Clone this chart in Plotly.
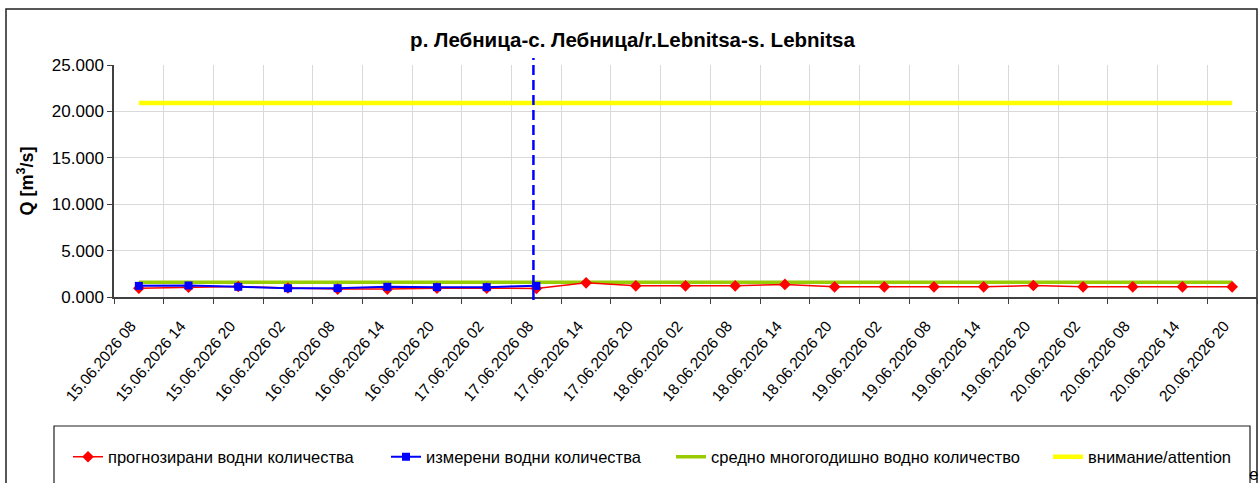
import plotly.graph_objects as go

categories = [
    "15.06.2026 08", "15.06.2026 14", "15.06.2026 20",
    "16.06.2026 02", "16.06.2026 08", "16.06.2026 14", "16.06.2026 20",
    "17.06.2026 02", "17.06.2026 08", "17.06.2026 14", "17.06.2026 20",
    "18.06.2026 02", "18.06.2026 08", "18.06.2026 14", "18.06.2026 20",
    "19.06.2026 02", "19.06.2026 08", "19.06.2026 14", "19.06.2026 20",
    "20.06.2026 02", "20.06.2026 08", "20.06.2026 14", "20.06.2026 20",
]
forecast = [0.95, 1.05, 1.13, 0.97, 0.85, 0.85, 0.95, 0.95, 0.92, 1.53, 1.2, 1.2,
            1.2, 1.35, 1.1, 1.1, 1.1, 1.1, 1.24, 1.1, 1.1, 1.1, 1.1]
measured_categories = categories[:9]
measured = [1.2, 1.24, 1.1, 0.95, 0.95, 1.1, 1.06, 1.06, 1.2]
mean_value = [1.6] * len(categories)
attention = [20.9] * len(categories)
now_category = "17.06.2026 08"

FONT = "Liberation Sans, Arial, sans-serif"
W, H = 1260, 483
L, R, T, B = 114, 1257, 65, 297
pw, ph = R - L, B - T


def px(x):
    return (x - L) / pw


def py(y):
    return (B - y) / ph


fig = go.Figure()
fig.add_trace(go.Scatter(x=categories, y=mean_value, mode="lines",
                         line=dict(color="#99CC00", width=3.5),
                         name="средно многогодишно водно количество", legend="legend3"))
fig.add_trace(go.Scatter(x=categories, y=attention, mode="lines",
                         line=dict(color="#FFFF00", width=4.5),
                         name="внимание/attention", legend="legend4"))
fig.add_trace(go.Scatter(x=categories, y=forecast, mode="lines+markers",
                         line=dict(color="#FF0000", width=1.5),
                         marker=dict(symbol="diamond", size=9, color="#FF0000"),
                         name="прогнозирани водни количества", legend="legend"))
fig.add_trace(go.Scatter(x=measured_categories, y=measured, mode="lines+markers",
                         line=dict(color="#0000FF", width=2),
                         marker=dict(symbol="square", size=8, color="#0000FF"),
                         name="измерени водни количества", legend="legend2"))

# vertical "now" line
fig.add_shape(type="line", xref="x", yref="paper", x0=now_category, x1=now_category,
              x0shift=-0.06, x1shift=-0.06,
              y0=py(300), y1=py(58), line=dict(color="#0000FF", width=2.5, dash="10px,5px"))
# outer chart border
fig.add_shape(type="rect", xref="paper", yref="paper", x0=px(6), x1=px(1257),
              y0=py(495), y1=py(9), line=dict(color="#202020", width=1.5), layer="below")
# legend box
fig.add_shape(type="rect", xref="paper", yref="paper", x0=px(54), x1=px(1250),
              y0=py(495), y1=py(426), line=dict(color="#202020", width=1.2), layer="below")

fig.add_annotation(text="e", xref="paper", yref="paper", x=px(1253), y=py(474),
                   xanchor="center", yanchor="middle",
                   showarrow=False, font=dict(family=FONT, size=17, color="#000000"))

leg_common = dict(orientation="h", xanchor="left", yanchor="middle", y=py(457),
                  font=dict(family=FONT, size=16.5, color="#000000"),
                  bgcolor="rgba(0,0,0,0)", borderwidth=0)
fig.update_layout(
    legend=dict(x=px(68), **leg_common),
    legend2=dict(x=px(386), **leg_common),
    legend3=dict(x=px(671), **leg_common),
    legend4=dict(x=px(1048), **leg_common),
)

fig.update_layout(
    width=W, height=H,
    margin=dict(l=L, r=W - R, t=T, b=H - B, autoexpand=False),
    paper_bgcolor="white", plot_bgcolor="white",
    title=dict(text="<b>р. Лебница-с. Лебница/r.Lebnitsa-s. Lebnitsa</b>",
               x=0.502, xanchor="center", y=1 - 40 / H, yanchor="middle",
               font=dict(family=FONT, size=20.5, color="#000000")),
    font=dict(family=FONT, color="#000000"),
    showlegend=True,
)
fig.update_xaxes(
    type="category", categoryorder="array", categoryarray=categories,
    tickson="boundaries", ticks="outside", ticklen=5, tickcolor="#404040",
    showgrid=True, gridcolor="#D9D9D9", gridwidth=1,
    showline=True, linecolor="#404040", linewidth=1.5,
    tickangle=-50, tickfont=dict(family=FONT, size=15.5, color="#000000"),
    ticklabelstandoff=12, ticklabelshift=-8,
    range=[-0.5, len(categories) - 0.5], automargin=False,
)
fig.update_yaxes(
    range=[0, 25], dtick=5, tickformat=".3f",
    ticks="outside", ticklen=5, tickcolor="#404040",
    showgrid=True, gridcolor="#D9D9D9", gridwidth=1,
    showline=True, linecolor="#404040", linewidth=1.5, zeroline=False,
    tickfont=dict(family=FONT, size=17, color="#000000"),
    title=dict(text="<b>Q [m<sup>3</sup>/s]</b>", standoff=14,
               font=dict(family=FONT, size=18, color="#000000")),
    automargin=False,
)

fig.write_html("out.html", config={"displayModeBar": False},
               post_script="document.body.style.margin='0px';")
